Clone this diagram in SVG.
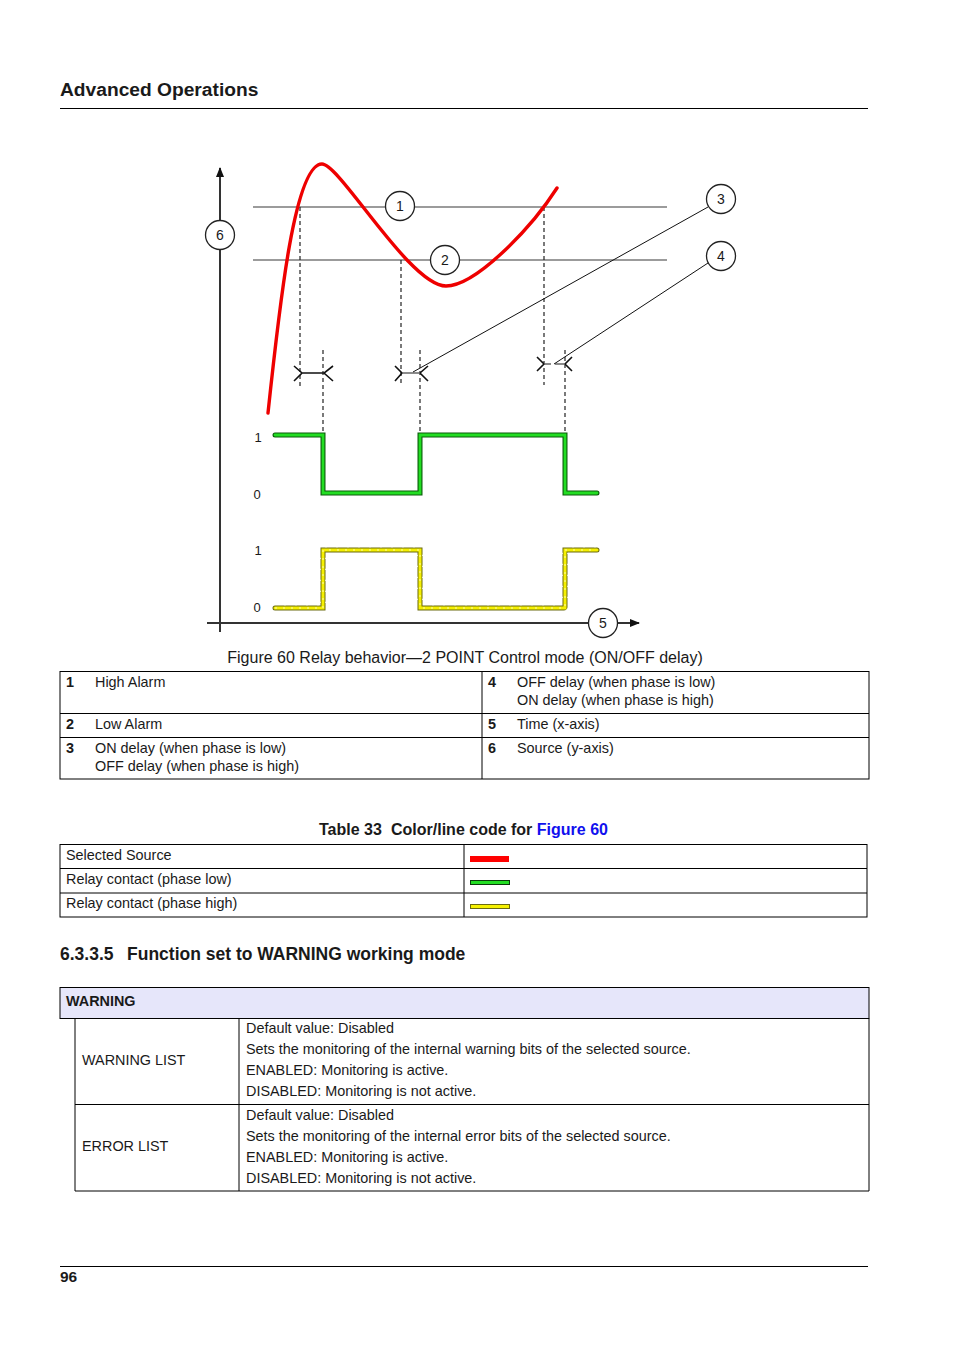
<svg xmlns="http://www.w3.org/2000/svg" width="954" height="1350" viewBox="0 0 954 1350">
<style>
text{font-family:"Liberation Sans",Arial,sans-serif;fill:#1a1a1a}
.b{font-weight:bold}
.t{font-size:14.4px}
.rule{stroke:#000;stroke-width:1;fill:none}
.cell{stroke:#000;stroke-width:1;fill:none}
.alarm{stroke:#7a7a7a;stroke-width:1.5;fill:none}
.dash{stroke:#222;stroke-width:1.2;stroke-dasharray:4 3;fill:none}
.dim{stroke:#111;stroke-width:1.6;fill:none}
.lead{stroke:#111;stroke-width:1;fill:none}
.circ{fill:#fff;stroke:#222;stroke-width:1.3}
.cl{font-size:14px;text-anchor:middle}
.ax{stroke:#333;stroke-width:2;fill:none}
</style>
<defs>
<marker id="arr" markerWidth="10" markerHeight="10" refX="9" refY="5" orient="auto" markerUnits="userSpaceOnUse">
<path d="M0,1 L10,5 L0,9 Z" fill="#111"/>
</marker>
</defs>
<rect width="954" height="1350" fill="#fff"/>

<g id="header">
<text x="60" y="96" class="b" font-size="19.2">Advanced Operations</text>
<line x1="60" y1="108.5" x2="868" y2="108.5" class="rule"/>
</g>

<g id="chart">
<g id="axes">
<line x1="220" y1="632" x2="220" y2="168" class="ax" marker-end="url(#arr)"/>
<line x1="207" y1="623" x2="589" y2="623" class="ax"/>
<line x1="618" y1="623" x2="639" y2="623" class="ax" marker-end="url(#arr)"/>
</g>
<g id="alarm-lines">
<line x1="253" y1="207" x2="667" y2="207" class="alarm"/>
<line x1="253" y1="260" x2="667" y2="260" class="alarm"/>
</g>
<g id="dashes">
<line x1="300" y1="207" x2="300" y2="388" class="dash"/>
<line x1="323" y1="350" x2="323" y2="434" class="dash"/>
<line x1="401" y1="260" x2="401" y2="385" class="dash"/>
<line x1="420" y1="350" x2="420" y2="434" class="dash"/>
<line x1="544" y1="207" x2="544" y2="385" class="dash"/>
<line x1="565" y1="350" x2="565" y2="434" class="dash"/>
</g>
<g id="source-curve">
<path d="M268,413 C280,300 295,164 322,164 C340,164 410,286 446,286 C475,286 530,230 557,188" fill="none" stroke="#ee0000" stroke-width="3.4" stroke-linecap="round"/>
</g>
<g id="delay-markers">
<path d="M294,366 L302,373 L294,381 M333,366 L324,373 L333,381 M302,373 H324" class="dim"/>
<path d="M395,366 L402,373 L395,381 M428,366 L420,373 L428,381" class="dim"/>
<path d="M402,373 H420" stroke="#666" stroke-width="1.5"/>
<path d="M537,357 L544,364 L537,371 M572,357 L565,364 L572,371" class="dim"/>
<path d="M544,364 H551 M555,364 H565" stroke="#666" stroke-width="1.3"/>
</g>
<g id="connectors">
<line x1="413" y1="372" x2="708" y2="207" class="lead"/>
<line x1="554" y1="364" x2="708" y2="263" class="lead"/>
</g>
<g id="relay-low">
<path d="M275,435 H323 V493 H420 V435 H565 V493 H597" fill="none" stroke="#0a5a0a" stroke-width="5" stroke-linecap="round"/>
<path d="M275,435 H323 V493 H420 V435 H565 V493 H597" fill="none" stroke="#22dd22" stroke-width="2.8" stroke-linecap="round"/>
</g>
<g id="relay-high">
<path d="M275,608 H323 V550 H420 V608 H565 V550 H597" fill="none" stroke="#6b6b10" stroke-width="5" stroke-linecap="round" stroke-dasharray="9 2"/>
<path d="M275,608 H323 V550 H420 V608 H565 V550 H597" fill="none" stroke="#f5f000" stroke-width="3" stroke-linecap="round"/>
<path d="M275,608 H323 V550 H420 V608 H565 V550 H597" fill="none" stroke="#fffbb0" stroke-width="1" stroke-dasharray="2 6"/>
</g>
<g id="levels">
<text x="258" y="442" font-size="13" text-anchor="middle" fill="#333">1</text>
<text x="257" y="499" font-size="13" text-anchor="middle" fill="#333">0</text>
<text x="258" y="555" font-size="13" text-anchor="middle" fill="#333">1</text>
<text x="257" y="612" font-size="13" text-anchor="middle" fill="#333">0</text>
</g>
<g id="n1"><circle cx="400" cy="206" r="14.5" class="circ"/><text x="400" y="211" class="cl">1</text></g>
<g id="n2"><circle cx="445" cy="260" r="14.5" class="circ"/><text x="445" y="265" class="cl">2</text></g>
<g id="n3"><circle cx="721" cy="199" r="14.5" class="circ"/><text x="721" y="204" class="cl">3</text></g>
<g id="n4"><circle cx="721" cy="256" r="14.5" class="circ"/><text x="721" y="261" class="cl">4</text></g>
<g id="n5"><circle cx="603" cy="623" r="14.5" class="circ"/><text x="603" y="628" class="cl">5</text></g>
<g id="n6"><circle cx="220" cy="235" r="14.5" class="circ"/><text x="220" y="240" class="cl">6</text></g>
</g>

<g id="caption">
<text x="465" y="663" font-size="16" text-anchor="middle">Figure 60 Relay behavior—2 POINT Control mode (ON/OFF delay)</text>
</g>

<g id="legend-table">
<rect x="60" y="671.5" width="809" height="107.5" class="cell"/>
<line x1="482" y1="671.5" x2="482" y2="779" class="cell"/>
<line x1="60" y1="713.5" x2="869" y2="713.5" class="cell"/>
<line x1="60" y1="737.5" x2="869" y2="737.5" class="cell"/>
<text x="66" y="687" class="t b">1</text><text x="95" y="687" class="t">High Alarm</text>
<text x="488" y="687" class="t b">4</text><text x="517" y="687" class="t">OFF delay (when phase is low)</text>
<text x="517" y="705" class="t">ON delay (when phase is high)</text>
<text x="66" y="729" class="t b">2</text><text x="95" y="729" class="t">Low Alarm</text>
<text x="488" y="729" class="t b">5</text><text x="517" y="729" class="t">Time (x-axis)</text>
<text x="66" y="753" class="t b">3</text><text x="95" y="753" class="t">ON delay (when phase is low)</text>
<text x="95" y="771" class="t">OFF delay (when phase is high)</text>
<text x="488" y="753" class="t b">6</text><text x="517" y="753" class="t">Source (y-axis)</text>
</g>

<g id="color-table">
<text x="319" y="835" font-size="16" class="b">Table 33</text>
<text x="391" y="835" font-size="16" class="b">Color/line code for <tspan fill="#1010ee">Figure 60</tspan></text>
<rect x="60" y="844.5" width="807" height="72.5" class="cell"/>
<line x1="464" y1="844.5" x2="464" y2="917" class="cell"/>
<line x1="60" y1="868.5" x2="867" y2="868.5" class="cell"/>
<line x1="60" y1="893" x2="867" y2="893" class="cell"/>
<text x="66" y="860" class="t">Selected Source</text>
<text x="66" y="884" class="t">Relay contact (phase low)</text>
<text x="66" y="908" class="t">Relay contact (phase high)</text>
<rect x="470" y="856" width="39" height="6" fill="#ff0000"/>
<rect x="470.5" y="880.5" width="39" height="4" fill="#22dd22" stroke="#0a3a0a" stroke-width="1"/>
<rect x="470.5" y="904.5" width="39" height="4" fill="#f5f000" stroke="#6b6b10" stroke-width="1"/>
</g>

<g id="section">
<text x="60" y="960" font-size="17.5" class="b">6.3.3.5</text>
<text x="127" y="960" font-size="17.5" class="b">Function set to WARNING working mode</text>
</g>

<g id="warning-table">
<rect x="60" y="987.5" width="809" height="31" fill="#e6e6fa" stroke="#000" stroke-width="1"/>
<text x="66" y="1006" class="t b">WARNING</text>
<path d="M75,1018.5 V1191 H869 V1018.5 M239,1018.5 V1191 M75,1104.5 H869" class="cell"/>
<text x="82" y="1065" class="t">WARNING LIST</text>
<text x="246" y="1033" class="t">Default value: Disabled</text>
<text x="246" y="1054" class="t">Sets the monitoring of the internal warning bits of the selected source.</text>
<text x="246" y="1075" class="t">ENABLED: Monitoring is active.</text>
<text x="246" y="1096" class="t">DISABLED: Monitoring is not active.</text>
<text x="82" y="1151" class="t">ERROR LIST</text>
<text x="246" y="1120" class="t">Default value: Disabled</text>
<text x="246" y="1141" class="t">Sets the monitoring of the internal error bits of the selected source.</text>
<text x="246" y="1162" class="t">ENABLED: Monitoring is active.</text>
<text x="246" y="1183" class="t">DISABLED: Monitoring is not active.</text>
</g>

<g id="footer">
<line x1="60" y1="1266.5" x2="868" y2="1266.5" class="rule"/>
<text x="60" y="1282" font-size="15.5" class="b">96</text>
</g>
</svg>
